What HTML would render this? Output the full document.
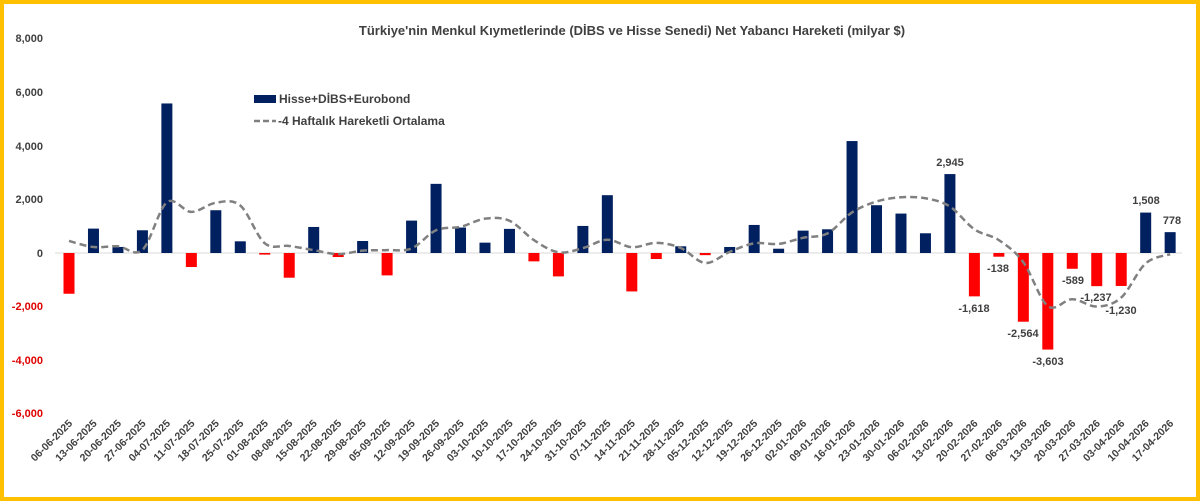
<!DOCTYPE html>
<html><head><meta charset="utf-8"><style>
html,body{margin:0;padding:0;background:#fff}
#w{position:relative;width:1200px;height:501px;box-sizing:border-box;border:4px solid #FFC000;background:#fff;overflow:hidden}
svg{position:absolute;left:-4px;top:-4px}
text{font-family:"Liberation Sans",sans-serif}
</style></head><body><div id="w">
<svg id="s" width="1200" height="501" viewBox="0 0 1200 501">
<text x="632" y="35" text-anchor="middle" font-size="13" font-weight="bold" fill="#404040">Türkiye'nin Menkul Kıymetlerinde (DİBS ve Hisse Senedi) Net Yabancı Hareketi (milyar $)</text>
<g font-size="11" font-weight="bold" fill="#404040" text-anchor="end">
<text x="43" y="42">8,000</text>
<text x="43" y="96">6,000</text>
<text x="43" y="150">4,000</text>
<text x="43" y="203">2,000</text>
<text x="43" y="257">0</text>
<text x="43" y="310" fill="#e00000">-2,000</text>
<text x="43" y="364" fill="#e00000">-4,000</text>
<text x="43" y="417" fill="#e00000">-6,000</text>
</g>
<line x1="55" y1="253" x2="1182" y2="253" stroke="#d9d9d9" stroke-width="1"/>
<g id="bars"></g>
<path id="ma" fill="none" stroke="#808080" stroke-width="2.5" stroke-dasharray="7,4"/>
<rect x="254" y="95" width="22" height="8" fill="#002060"/>
<text x="279" y="103" font-size="12" font-weight="bold" fill="#404040">Hisse+DİBS+Eurobond</text>
<line x1="254" y1="121" x2="276" y2="121" stroke="#808080" stroke-width="2.5" stroke-dasharray="6,3"/>
<text x="278" y="125" font-size="12" font-weight="bold" fill="#404040">-4 Haftalık Hareketli Ortalama</text>
<g font-size="11" font-weight="bold" fill="#404040" text-anchor="middle" dominant-baseline="middle">
<text x="950" y="163">2,945</text>
<text x="974" y="309">-1,618</text>
<text x="998" y="269">-138</text>
<text x="1023" y="334">-2,564</text>
<text x="1048" y="362">-3,603</text>
<text x="1073" y="281">-589</text>
<text x="1096" y="298">-1,237</text>
<text x="1121" y="311">-1,230</text>
<text x="1146" y="201">1,508</text>
<text x="1172" y="221">778</text>
</g>
<g id="xl" font-size="10.5" font-weight="bold" fill="#404040" text-anchor="end">
<text>06-06-2025</text><text>13-06-2025</text><text>20-06-2025</text><text>27-06-2025</text><text>04-07-2025</text><text>11-07-2025</text><text>18-07-2025</text><text>25-07-2025</text><text>01-08-2025</text><text>08-08-2025</text><text>15-08-2025</text><text>22-08-2025</text><text>29-08-2025</text><text>05-09-2025</text><text>12-09-2025</text><text>19-09-2025</text><text>26-09-2025</text><text>03-10-2025</text><text>10-10-2025</text><text>17-10-2025</text><text>24-10-2025</text><text>31-10-2025</text><text>07-11-2025</text><text>14-11-2025</text><text>21-11-2025</text><text>28-11-2025</text><text>05-12-2025</text><text>12-12-2025</text><text>19-12-2025</text><text>26-12-2025</text><text>02-01-2026</text><text>09-01-2026</text><text>16-01-2026</text><text>23-01-2026</text><text>30-01-2026</text><text>06-02-2026</text><text>13-02-2026</text><text>20-02-2026</text><text>27-02-2026</text><text>06-03-2026</text><text>13-03-2026</text><text>20-03-2026</text><text>27-03-2026</text><text>03-04-2026</text><text>10-04-2026</text><text>17-04-2026</text>
</g>
</svg>
<script>
var v=[-1520,910,225,848,5580,-523,1596,436,-60,-922,972,-150,448,-835,1209,2580,950,386,900,-312,-873,1010,2157,-1434,-225,250,-80,225,1047,160,835,885,4177,1783,1471,736,2945,-1618,-138,-2564,-3603,-589,-1237,-1230,1508,778];
var Z=253,K=53.6/2000,X0=69,DX=24.47,ns="http://www.w3.org/2000/svg";
var g=document.getElementById('bars');
function cx(i){return X0+DX*i}
v.forEach(function(a,i){var r=document.createElementNS(ns,'rect');var h=Math.abs(a)*K;
r.setAttribute('x',cx(i)-5.5);r.setAttribute('width',11);r.setAttribute('y',a>0?Z-h:Z);r.setAttribute('height',h);
r.setAttribute('fill',a>0?'#002060':'#ff0000');g.appendChild(r);});
var m=[449,224,250];for(var i=3;i<v.length;i++)m.push((v[i]+v[i-1]+v[i-2]+v[i-3])/4);
var p=m.map(function(a,i){return [cx(i),Z-a*K]});
var d='M'+p[0][0]+','+p[0][1];
for(var i=0;i<p.length-1;i++){var p0=p[Math.max(0,i-1)],p1=p[i],p2=p[i+1],p3=p[Math.min(p.length-1,i+2)];
d+=' C'+(p1[0]+(p2[0]-p0[0])/6)+','+(p1[1]+(p2[1]-p0[1])/6)+' '+(p2[0]-(p3[0]-p1[0])/6)+','+(p2[1]-(p3[1]-p1[1])/6)+' '+p2[0]+','+p2[1];}
document.getElementById('ma').setAttribute('d',d);
var t=document.getElementById('xl').children;
for(var i=0;i<t.length;i++){var x=cx(i)+4,y=424;t[i].setAttribute('x',x);t[i].setAttribute('y',y);t[i].setAttribute('transform','rotate(-45 '+x+' '+y+')');}
</script>
</div></body></html>
